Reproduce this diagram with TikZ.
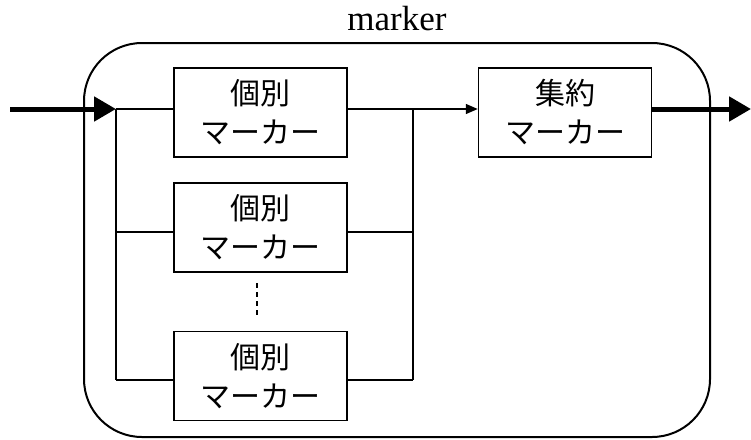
\documentclass[tikz,border=0pt]{standalone}
\usepackage{fontspec}
\setmainfont{Liberation Serif}
\newfontfamily\jpfont{Noto Sans CJK JP}
\usetikzlibrary{arrows.meta}
\begin{document}
\begin{tikzpicture}[x=1pt,y=-1pt,
  mbox/.style={draw,line width=1.5pt,minimum width=173pt,minimum height=89pt,inner sep=0pt,
    font=\jpfont\fontsize{30}{39}\selectfont,align=center},
  thin/.style={line width=1.5pt},
  thick/.style={line width=5pt,-{Triangle[length=22pt,width=24pt]}},
  thinarrow/.style={line width=1.5pt,-{Triangle[length=12pt,width=10pt]}}]
\useasboundingbox (0,0) rectangle (751,439);
\draw[line width=2pt,rounded corners=58pt] (84,43) rectangle (710,437);
\node[font=\fontsize{35}{40}\selectfont] (title) at (397,19) {marker};
\node[mbox] (m1) at (260.5,112.5) {個別\\マーカー};
\node[mbox] (m2) at (260.5,227.5) {個別\\マーカー};
\node[mbox] (m3) at (260.5,376) {個別\\マーカー};
\node[mbox] (agg) at (565,112.5) {集約\\マーカー};
\coordinate (in) at (10,109);
\coordinate (lt) at (116,109);
\coordinate (lm) at (116,232);
\coordinate (lb) at (116,380);
\coordinate (rt) at (413,109);
\coordinate (rm) at (413,232);
\coordinate (rb) at (413,380);
\coordinate (out) at (751,109);
\coordinate (d1) at (257,283);
\coordinate (d2) at (257,316);
\draw[thick] (in) -- (lt);
\draw[thin] (lt) -- (lb);
\draw[thin] (lt) -- (m1.west |- lt);
\draw[thin] (lm) -- (m2.west |- lm);
\draw[thin] (lb) -- (m3.west |- lb);
\draw[thin] (rt) -- (rb);
\draw[thin] (m1.east |- rt) -- (rt);
\draw[thin] (m2.east |- rm) -- (rm);
\draw[thin] (m3.east |- rb) -- (rb);
\draw[thinarrow] (rt) -- (agg.west |- rt);
\draw[thick] (agg.east |- out) -- (out);
\draw[line width=1.5pt,dash pattern=on 5pt off 4pt] (d1) -- (d2);
\end{tikzpicture}
\end{document}
